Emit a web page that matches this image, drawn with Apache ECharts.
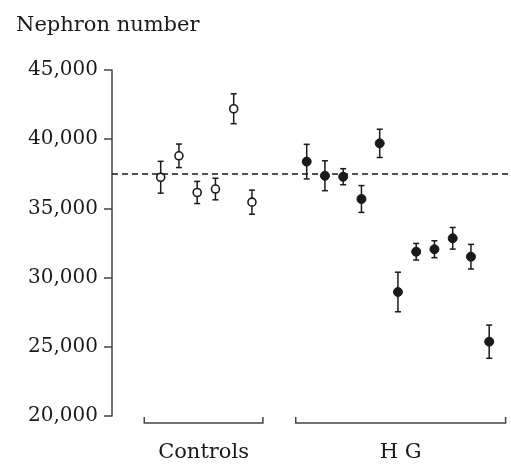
<!DOCTYPE html>
<html>
<head>
<meta charset="utf-8">
<script src="https://cdn.jsdelivr.net/npm/echarts@6/dist/echarts.min.js"></script>
<style>html,body{margin:0;padding:0;background:#fff;}#c{width:511px;height:464px;}</style>
</head>
<body>
<div id="c"></div>
<script>
// Data
var yTicks = [20000, 25000, 30000, 35000, 40000, 45000];
var controlsMean = [37250, 38800, 36150, 36400, 42200, 35450];
var controlsErr  = [1150, 850, 800, 780, 1080, 870];
var hgMean = [38380, 37360, 37290, 35680, 39700, 28960, 31870, 32050, 32840, 31510, 25370];
var hgErr  = [1250, 1080, 580, 970, 1020, 1430, 600, 610, 780, 890, 1200];
var referenceValue = 37500;
var groupNames = ['Controls', 'H G'];
var groupSpans = [[0.1, 6.6], [8.4, 19.9]];
var controlsStart = 1, hgStart = 9;

var FONT = 'DejaVu Serif';
var INK = '#1a1a1a';

var controlsPts = controlsMean.map(function (v, i) { return [controlsStart + i, v]; });
var hgPts = hgMean.map(function (v, i) { return [hgStart + i, v]; });
var errData = controlsMean.map(function (v, i) { return [controlsStart + i, v - controlsErr[i], v + controlsErr[i]]; })
  .concat(hgMean.map(function (v, i) { return [hgStart + i, v - hgErr[i], v + hgErr[i]]; }));
var groupData = groupSpans.map(function (s, i) { return [s[0], s[1], groupNames[i]]; });

var chart = echarts.init(document.getElementById('c'), null, { renderer: 'canvas' });
chart.setOption({
  animation: false,
  backgroundColor: '#fff',
  title: {
    text: 'Nephron number', left: 11, top: 10,
    textStyle: { fontFamily: FONT, fontSize: 21, fontWeight: 'normal', color: INK }
  },
  grid: { left: 112, right: 0, top: 70, bottom: 48 },
  xAxis: {
    type: 'value', min: -1.668, max: 20.195,
    axisLine: { show: false }, axisTick: { show: false }, axisLabel: { show: false }, splitLine: { show: false }
  },
  yAxis: {
    type: 'value', min: yTicks[0], max: yTicks[yTicks.length - 1], interval: 5000,
    axisLine: { show: true, onZero: false, lineStyle: { color: '#444', width: 1.5 } },
    axisTick: { show: true, length: 8, lineStyle: { color: '#444', width: 1.5 } },
    splitLine: { show: false },
    axisLabel: {
      fontFamily: FONT, fontSize: 20, color: INK, margin: 14,
      formatter: function (v) { return v.toLocaleString('en-US'); }
    }
  },
  series: [
    {
      type: 'custom', name: 'err', clip: false, z: 2,
      data: errData,
      renderItem: function (params, api) {
        var x = api.value(0);
        var top = api.coord([x, api.value(2)]);
        var bot = api.coord([x, api.value(1)]);
        var cw = 3;
        var st = { stroke: INK, lineWidth: 1.5 };
        return { type: 'group', children: [
          { type: 'line', shape: { x1: top[0], y1: top[1], x2: bot[0], y2: bot[1] }, style: st },
          { type: 'line', shape: { x1: top[0] - cw, y1: top[1], x2: top[0] + cw, y2: top[1] }, style: st },
          { type: 'line', shape: { x1: bot[0] - cw, y1: bot[1], x2: bot[0] + cw, y2: bot[1] }, style: st }
        ] };
      }
    },
    {
      type: 'scatter', name: 'Controls', z: 3,
      data: controlsPts, symbol: 'circle', symbolSize: 8,
      itemStyle: { color: '#fff', borderColor: INK, borderWidth: 1.6, opacity: 1 },
      markLine: {
        silent: true, symbol: 'none', label: { show: false },
        lineStyle: { color: INK, width: 1.5, type: [6, 4] },
        data: [{ yAxis: referenceValue }]
      }
    },
    {
      type: 'scatter', name: 'H G', z: 3,
      data: hgPts, symbol: 'circle', symbolSize: 9,
      itemStyle: { color: INK, borderColor: INK, borderWidth: 1, opacity: 1 }
    },
    {
      type: 'custom', name: 'groups', clip: false,
      data: groupData,
      renderItem: function (params, api) {
        var a = api.coord([api.value(0), yTicks[0]]);
        var b = api.coord([api.value(1), yTicks[0]]);
        var y = a[1] + 7;
        var st = { stroke: '#444', lineWidth: 1.5, fill: null };
        return { type: 'group', children: [
          { type: 'polyline', shape: { points: [[a[0], y - 6], [a[0], y], [b[0], y], [b[0], y - 6]] }, style: st },
          { type: 'text', style: { text: api.value(2), x: (a[0] + b[0]) / 2, y: y + 30, align: 'center', verticalAlign: 'middle',
              font: '21px "' + FONT + '"', fill: INK } }
        ] };
      }
    }
  ]
});
</script>
</body>
</html>
